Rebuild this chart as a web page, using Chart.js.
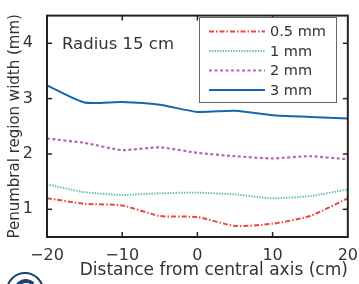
<!DOCTYPE html>
<html><head><meta charset="utf-8">
<script src="https://cdn.jsdelivr.net/npm/chart.js@4/dist/chart.umd.min.js"></script>
<style>html,body{margin:0;padding:0;background:#fff}#w{width:359px;height:284px}</style>
</head><body><div id="w"><canvas id="c" width="359" height="284"></canvas></div>
<script>
const distances = [-20, -15, -10, -5, 0, 5, 10, 15, 20];
const width05 = [1.20, 1.10, 1.07, 0.88, 0.86, 0.70, 0.74, 0.88, 1.20];
const width1 = [1.45, 1.31, 1.26, 1.29, 1.30, 1.27, 1.20, 1.24, 1.36];
const width2 = [2.28, 2.20, 2.07, 2.12, 2.02, 1.96, 1.92, 1.96, 1.90];
const width3 = [3.24, 2.93, 2.94, 2.89, 2.76, 2.78, 2.70, 2.67, 2.64];
const seriesLabels = ['0.5 mm', '1 mm', '2 mm', '3 mm'];
const xTicks = [-20, -10, 0, 10, 20];
const yTicks = [1, 2, 3, 4];
const annotationText = 'Radius 15 cm';
const xTitle = 'Distance from central axis (cm)';
const yTitle = 'Penumbral region width (mm)';

const FONT = 'DejaVu Sans';
const TXT = '#333';
const pts = a => a.map((v, i) => ({x: distances[i], y: v}));
const styles = [
  {c: '#e8493f', d: [5, 2, 1.5, 2], w: 2},
  {c: '#6cc4a4', d: [1.5, 1.2], w: 2},
  {c: '#b06ab3', d: [3, 2.5], w: 2.2},
  {c: '#1565b0', d: [], w: 2}
];
const allData = [width05, width1, width2, width3];
const datasets = allData.map((a, i) => ({
  label: seriesLabels[i], data: pts(a), borderColor: styles[i].c, borderDash: styles[i].d,
  borderWidth: styles[i].w, pointRadius: 0, fill: false, tension: 0.2
}));

const frame = {
  id: 'frame',
  afterDraw(chart) {
    const ctx = chart.ctx, a = chart.chartArea, xs = chart.scales.x, ys = chart.scales.y;
    ctx.save();
    ctx.strokeStyle = '#222'; ctx.lineWidth = 2;
    ctx.strokeRect(a.left, a.top, a.right - a.left, a.bottom - a.top);
    ctx.lineWidth = 1.5;
    xTicks.forEach(v => {
      const px = xs.getPixelForValue(v);
      if (v === xTicks[0] || v === xTicks[xTicks.length - 1]) return;
      ctx.beginPath(); ctx.moveTo(px, a.bottom); ctx.lineTo(px, a.bottom - 5); ctx.stroke();
      ctx.beginPath(); ctx.moveTo(px, a.top); ctx.lineTo(px, a.top + 5); ctx.stroke();
    });
    yTicks.forEach(v => {
      const py = ys.getPixelForValue(v);
      ctx.beginPath(); ctx.moveTo(a.left, py); ctx.lineTo(a.left + 5, py); ctx.stroke();
      ctx.beginPath(); ctx.moveTo(a.right, py); ctx.lineTo(a.right - 5, py); ctx.stroke();
    });
    // annotation
    ctx.fillStyle = TXT; ctx.font = '16.5px "' + FONT + '"'; ctx.textBaseline = 'middle'; ctx.textAlign = 'left';
    ctx.fillText(annotationText, a.left + 15, ys.getPixelForValue(4) + 1);
    // legend
    const lx = 199.5, ly = 17.5, lw = 137, lh = 85;
    ctx.fillStyle = '#fff'; ctx.fillRect(lx, ly, lw, lh);
    ctx.strokeStyle = '#666'; ctx.lineWidth = 1; ctx.strokeRect(lx, ly, lw, lh);
    ctx.font = '14.5px "' + FONT + '"';
    chart.data.datasets.forEach((ds, i) => {
      const y = 31.5 + i * 19.5;
      ctx.strokeStyle = ds.borderColor; ctx.lineWidth = ds.borderWidth; ctx.setLineDash(ds.borderDash);
      ctx.beginPath(); ctx.moveTo(209, y); ctx.lineTo(265, y); ctx.stroke();
      ctx.setLineDash([]);
      ctx.fillStyle = TXT; ctx.fillText(ds.label, 270, y + 1);
    });
    // corner logo
    ctx.strokeStyle = '#1e3f6e'; ctx.lineWidth = 2;
    ctx.beginPath(); ctx.arc(25, 291, 18, 0, Math.PI * 2); ctx.stroke();
    ctx.lineWidth = 4;
    ctx.beginPath(); ctx.arc(26, 291, 10, Math.PI * 1.05, Math.PI * 1.75); ctx.stroke();
    ctx.restore();
  }
};

new Chart(document.getElementById('c'), {
  type: 'line',
  data: {datasets},
  options: {
    responsive: false, animation: false, devicePixelRatio: 1,
    layout: {padding: {top: 12, right: 7, left: 0, bottom: 0}},
    plugins: {legend: {display: false}, tooltip: {enabled: false}},
    scales: {
      x: {
        type: 'linear', min: -20, max: 20,
        afterBuildTicks: s => { s.ticks = xTicks.map(v => ({value: v})); },
        afterFit: s => { s.height = 47; },
        grid: {display: false}, border: {display: false},
        ticks: {padding: 1, color: TXT, font: {family: FONT, size: 16},
          callback: v => (v < 0 ? '\u2212' + Math.abs(v) : String(v)), maxRotation: 0, autoSkip: false},
        title: {display: true, text: xTitle, align: 'end', color: TXT, font: {family: FONT, size: 17}, padding: {top: 0, bottom: 3}}
      },
      y: {
        type: 'linear', min: 0.5, max: 4.5,
        afterBuildTicks: s => { s.ticks = yTicks.map(v => ({value: v})); },
        afterFit: s => { s.width = 47; },
        grid: {display: false}, border: {display: false},
        ticks: {padding: 6, color: TXT, font: {family: FONT, size: 16}},
        title: {display: true, text: yTitle, color: TXT, font: {family: FONT, size: 15}, padding: {top: 6, bottom: 0}}
      }
    }
  },
  plugins: [frame]
});
</script></body></html>
